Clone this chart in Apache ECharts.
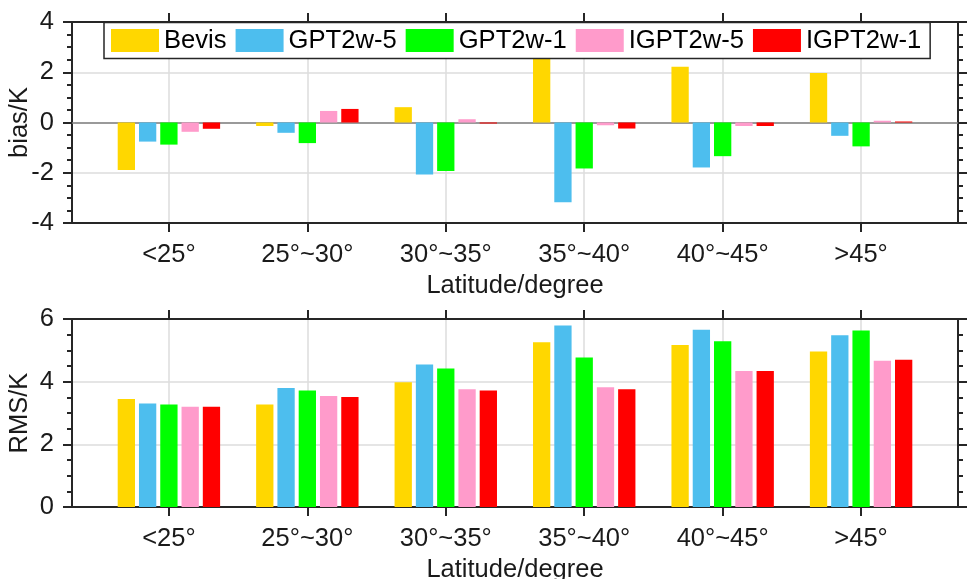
<!DOCTYPE html>
<html><head><meta charset="utf-8">
<script src="https://cdn.jsdelivr.net/npm/echarts@6/dist/echarts.min.js"></script>
<style>html,body{margin:0;padding:0;background:#fff}#c{width:968px;height:579px}</style>
</head><body><div id="c"></div>
<script>
const categories = ['<25°', '25°~30°', '30°~35°', '35°~40°', '40°~45°', '>45°'];
const seriesNames = ['Bevis', 'GPT2w-5', 'GPT2w-1', 'IGPT2w-5', 'IGPT2w-1'];
const seriesColors = ['#FFD700', '#4DBEEE', '#00FF00', '#FF9BCB', '#FF0000'];

const biasBevis    = [-1.89, -0.14,  0.61,  2.75,  2.22,  1.97];
const biasGPT2w5   = [-0.76, -0.41, -2.07, -3.17, -1.79, -0.53];
const biasGPT2w1   = [-0.88, -0.82, -1.93, -1.83, -1.34, -0.95];
const biasIGPT2w5  = [-0.37,  0.46,  0.13, -0.11, -0.14,  0.07];
const biasIGPT2w1  = [-0.25,  0.54, -0.04, -0.24, -0.14,  0.04];

const rmsBevis     = [3.45, 3.27, 3.98, 5.26, 5.17, 4.96];
const rmsGPT2w5    = [3.30, 3.80, 4.55, 5.79, 5.66, 5.48];
const rmsGPT2w1    = [3.27, 3.72, 4.42, 4.77, 5.29, 5.63];
const rmsIGPT2w5   = [3.20, 3.54, 3.76, 3.82, 4.34, 4.67];
const rmsIGPT2w1   = [3.20, 3.51, 3.72, 3.76, 4.34, 4.70];

const biasSeries = [biasBevis, biasGPT2w5, biasGPT2w1, biasIGPT2w5, biasIGPT2w1];
const rmsSeries = [rmsBevis, rmsGPT2w5, rmsGPT2w1, rmsIGPT2w5, rmsIGPT2w1];

const FONT = "'Liberation Sans', Arial, sans-serif";
const AX = '#262626';
const catPositions = categories.map((c, i) => i + 1);

function xAx(gridIndex, position, main) {
  return {
    type: 'value', gridIndex, position,
    min: 0.3, max: 6.7,
    axisLine: { show: true, onZero: false, lineStyle: { color: AX, width: 2 } },
    axisTick: { show: true, inside: false, length: 9, customValues: catPositions, lineStyle: { color: AX, width: 2 } },
    axisLabel: {
      show: main, margin: 19, customValues: catPositions,
      color: '#1a1a1a', fontSize: 25.5, fontFamily: FONT,
      formatter: v => categories[Math.round(v) - 1] || ''
    },
    splitLine: { show: main, lineStyle: { color: '#dcdcdc', width: 1.5 } },
    name: main ? 'Latitude/degree' : '',
    nameLocation: 'middle', nameGap: 50, nameMoveOverlap: false,
    nameTextStyle: { color: '#1a1a1a', fontSize: 25.5, fontFamily: FONT }
  };
}
function yAx(gridIndex, position, main, min, max, name) {
  return {
    type: 'value', gridIndex, position, min, max, interval: 2,
    axisLine: { show: true, onZero: false, lineStyle: { color: AX, width: 2 } },
    axisTick: { show: true, inside: false, length: 9, lineStyle: { color: AX, width: 2 } },
    minorTick: { show: true, splitNumber: 4, length: 5, lineStyle: { color: AX, width: 2 } },
    axisLabel: { show: main, margin: 18, color: '#1a1a1a', fontSize: 25.5, fontFamily: FONT },
    splitLine: { show: main, lineStyle: { color: '#dcdcdc', width: 1.5 } },
    minorSplitLine: { show: false },
    name: main ? name : '',
    nameLocation: 'middle', nameGap: 39, nameMoveOverlap: false,
    nameTextStyle: { color: '#1a1a1a', fontSize: 25.5, fontFamily: FONT }
  };
}

const series = [];
[biasSeries, rmsSeries].forEach((group, g) => {
  group.forEach((vals, k) => {
    const s = {
      type: 'bar', name: seriesNames[k],
      xAxisIndex: g * 2, yAxisIndex: g * 2,
      data: vals.map((v, i) => [i + 1, v]),
      barWidth: 17.3, barGap: '23%',
      itemStyle: { color: seriesColors[k] },
      emphasis: { disabled: true },
      z: 3
    };
    if (g === 0 && k === 0) {
      s.markLine = {
        silent: true, symbol: 'none', label: { show: false },
        lineStyle: { color: '#808080', width: 1.5, type: 'solid' },
        data: [{ yAxis: 0 }], z: 2
      };
    }
    series.push(s);
  });
});

const chart = echarts.init(document.getElementById('c'), null, { renderer: 'canvas' });
chart.setOption({
  animation: false,
  backgroundColor: '#ffffff',
  textStyle: { fontFamily: FONT },
  grid: [
    { left: 72, top: 22, width: 886, height: 201, containLabel: false, outerBoundsMode: 'none' },
    { left: 72, top: 319, width: 886, height: 188, containLabel: false, outerBoundsMode: 'none' }
  ],
  xAxis: [xAx(0, 'bottom', true), xAx(0, 'top', false), xAx(1, 'bottom', true), xAx(1, 'top', false)],
  yAxis: [
    yAx(0, 'left', true, -4, 4, 'bias/K'), yAx(0, 'right', false, -4, 4, ''),
    yAx(1, 'left', true, 0, 6, 'RMS/K'), yAx(1, 'right', false, 0, 6, '')
  ],
  legend: {
    data: seriesNames, left: 104, top: 22.5, orient: 'horizontal',
    padding: [5, 9, 5, 7], itemWidth: 48, itemHeight: 23, itemGap: 9,
    icon: 'rect', borderColor: '#262626', borderWidth: 1.5, backgroundColor: '#ffffff',
    borderRadius: 0, selectedMode: false,
    textStyle: { color: '#000', fontSize: 25.6, fontFamily: FONT }
  },
  series
});
</script></body></html>
